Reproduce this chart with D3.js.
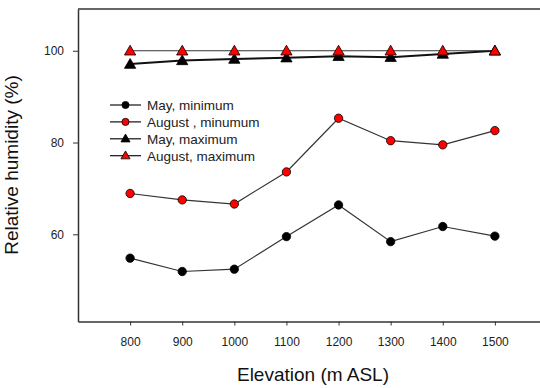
<!DOCTYPE html>
<html>
<head>
<meta charset="utf-8">
<script src="https://cdn.jsdelivr.net/npm/d3@7"></script>
<style>
  body { margin: 0; background: #fff; }
  svg { display: block; font-family: "Liberation Sans", Arial, sans-serif; }
</style>
</head>
<body>
<svg id="chart" width="540" height="388"></svg>
<script>
// elevation (m ASL) and relative humidity (%)
let elevations = [800, 900, 1000, 1100, 1200, 1300, 1400, 1500];
let mayMin = [54.8, 51.9, 52.4, 59.5, 66.4, 58.4, 61.7, 59.6];
let augMin = [68.9, 67.5, 66.6, 73.6, 85.3, 80.4, 79.5, 82.6];
let mayMax = [97.1, 97.9, 98.2, 98.5, 98.8, 98.6, 99.3, 100];
let augMax = [100, 100, 100, 100, 100, 100, 100, 100];
let yTicks = [60, 80, 100];

let series = [
    { name: "May, minimum", values: mayMin, shape: "circle", fill: "#000" },
    { name: "August , minumum", values: augMin, shape: "circle", fill: "#ff0000" },
    { name: "May, maximum", values: mayMax, shape: "triangle", fill: "#000" },
    { name: "August, maximum", values: augMax, shape: "triangle", fill: "#ff0000" }
];

let svg = d3.select("#chart");

let plotLeft = 78, plotTop = 9, plotBottom = 321.5, plotRight = 547;

let x = d3.scaleLinear().domain([700, 1600]).range([plotLeft, plotRight]);
let y = d3.scaleLinear().domain([41, 109.1]).range([plotBottom, plotTop]);

let symbolPath = (shape, size) => d3.symbol()
    .type(shape === "circle" ? d3.symbolCircle : d3.symbolTriangle)
    .size(size)();

// top frame line
svg.append("line").attr("x1", plotLeft).attr("x2", 540).attr("y1", plotTop).attr("y2", plotTop)
   .attr("stroke", "#333").attr("stroke-width", 1.5);

// axes
let xAxis = svg.append("g")
    .attr("transform", `translate(0, ${plotBottom})`)
    .call(d3.axisBottom(x).tickValues(elevations).tickFormat(d3.format("d"))
             .tickSize(4).tickPadding(12).tickSizeOuter(0));
let yAxis = svg.append("g")
    .attr("transform", `translate(${plotLeft}, 0)`)
    .call(d3.axisLeft(y).tickValues(yTicks).tickFormat(d3.format("d"))
             .tickSize(5).tickPadding(9).tickSizeOuter(0));

[xAxis, yAxis].forEach(ax => {
    ax.select(".domain").attr("stroke", "#333").attr("stroke-width", 1.5);
    ax.selectAll(".tick line").attr("stroke", "#333");
    ax.selectAll(".tick text").attr("fill", "#222").style("font-size", "12px")
      .style("font-family", "Liberation Sans, Arial, sans-serif");
});

// axis titles
svg.append("text")
   .attr("x", 313).attr("y", 381)
   .attr("text-anchor", "middle")
   .style("font-size", "19px").attr("fill", "#111")
   .text("Elevation (m ASL)");

svg.append("text")
   .attr("transform", "translate(18, 165) rotate(-90)")
   .attr("text-anchor", "middle")
   .style("font-size", "19px").attr("fill", "#111")
   .text("Relative humidity (%)");

// lines + markers
let line = d3.line()
    .x((d, i) => x(elevations[i]))
    .y(d => y(d));

series.forEach(s => {
    svg.append("path")
       .datum(s.values)
       .attr("d", line)
       .attr("fill", "none")
       .attr("stroke", s.name === "May, maximum" ? "#111" : "#333")
       .attr("stroke-width", s.name === "May, maximum" ? 2 : 1.2);
});

series.forEach(s => {
    svg.append("g").selectAll("path")
       .data(s.values)
       .enter()
       .append("path")
       .attr("transform", (d, i) => `translate(${x(elevations[i])}, ${y(d) + (s.shape === "triangle" ? 1 : 0)})`)
       .attr("d", symbolPath(s.shape, s.shape === "circle" ? 55 : 55))
       .attr("fill", s.fill)
       .attr("stroke", "#000")
       .attr("stroke-width", 0.8);
});

// legend
let legend = svg.append("g").attr("transform", "translate(110, 105)");
let rows = legend.selectAll("g")
    .data(series)
    .enter()
    .append("g")
    .attr("transform", (d, i) => `translate(0, ${i * 16.9})`);

rows.append("line")
    .attr("x1", 0).attr("x2", 31).attr("y1", 0).attr("y2", 0)
    .attr("stroke", "#111").attr("stroke-width", 1.2);
rows.append("path")
    .attr("transform", d => `translate(15.5, ${d.shape === "triangle" ? 0.5 : 0})`)
    .attr("d", d => symbolPath(d.shape, d.shape === "circle" ? 40 : 36))
    .attr("fill", d => d.fill)
    .attr("stroke", "#000")
    .attr("stroke-width", 0.8);
rows.append("text")
    .attr("x", 37).attr("y", 5)
    .style("font-size", "13.5px").attr("fill", "#222")
    .text(d => d.name);
</script>
</body>
</html>
